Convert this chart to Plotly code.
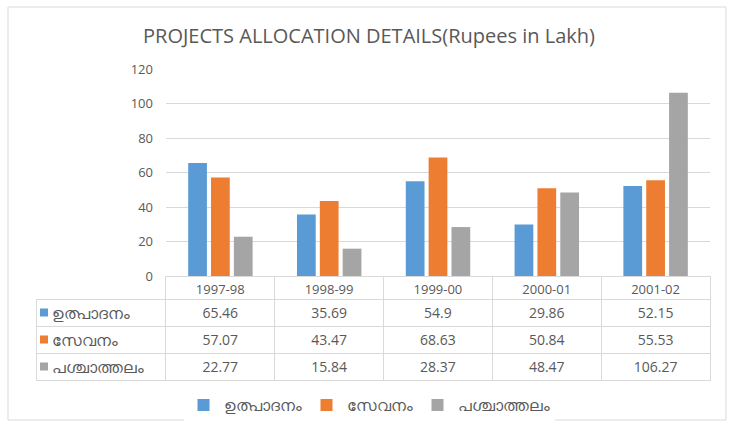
import plotly.graph_objects as go

years = ['1997-98', '1998-99', '1999-00', '2000-01', '2001-02']
series_names = ['ഉത്പാദനം', 'സേവനം', 'പശ്ചാത്തലം']
utpadanam = [65.46, 35.69, 54.9, 29.86, 52.15]
sevanam = [57.07, 43.47, 68.63, 50.84, 55.53]
paschathalam = [22.77, 15.84, 28.37, 48.47, 106.27]
colors = ['#5B9BD5', '#ED7D31', '#A5A5A5']

W, H = 738, 437
TXT = '#595959'
GRID = '#D9D9D9'
FONT = 'Open Sans, Noto Sans, sans-serif'

# table geometry in px
TBL_TOP, HEAD_H, ROW_H = 276, 23, 27

def px_x(p):
    return p / W

def px_y(p):
    return 1 - p / H

fig = go.Figure()

for name, vals, c in zip(series_names, [utpadanam, sevanam, paschathalam], colors):
    fig.add_trace(go.Bar(x=years, y=vals, name=name, marker=dict(color=c, line=dict(width=0))))

# data table under the plot, like Excel's chart data table
first_col = ['\u00a0\u00a0' + n for n in series_names]
cols = [first_col] + [[str(a), str(b), str(g)] for a, b, g in zip(utpadanam, sevanam, paschathalam)]
tbl_bottom = TBL_TOP + HEAD_H + ROW_H * len(series_names)
n_y = len(years)

fig.add_trace(go.Table(
    domain=dict(x=[px_x(36), px_x(710)], y=[px_y(tbl_bottom + 1), px_y(TBL_TOP)]),
    columnwidth=[130] + [109] * n_y,
    header=dict(values=[''] + years,
                line=dict(color=['rgba(0,0,0,0)'] + [GRID] * n_y, width=1),
                fill=dict(color=['rgba(0,0,0,0)'] + ['white'] * n_y), align='center',
                height=HEAD_H, font=dict(color=TXT, size=13, family=FONT)),
    cells=dict(values=cols, line=dict(color=GRID, width=1),
               fill=dict(color='white'), align=['left'] + ['center'] * n_y,
               height=ROW_H, font=dict(color=TXT, size=[16] + [14] * n_y, family=FONT)),
))

# coloured keys in the first table column
shapes = [dict(type='rect', xref='paper', yref='paper', x0=px_x(8), x1=px_x(726),
               y0=px_y(420), y1=px_y(7), line=dict(color=GRID, width=1))]
for i, c in enumerate(colors):
    yc = TBL_TOP + HEAD_H + ROW_H * i + ROW_H / 2
    shapes.append(dict(type='rect', xref='paper', yref='paper', x0=px_x(40), x1=px_x(48),
                       y0=px_y(yc + 4), y1=px_y(yc - 4), fillcolor=c, line=dict(width=0)))

fig.update_layout(
    width=W, height=H,
    margin=dict(l=0, r=0, t=0, b=0, autoexpand=False),
    paper_bgcolor='white', plot_bgcolor='white',
    font=dict(family=FONT, color=TXT),
    title=dict(text='PROJECTS ALLOCATION DETAILS(Rupees in Lakh)', x=0.5, xanchor='center',
               y=px_y(36), yanchor='middle', font=dict(size=20, color=TXT, family=FONT)),
    barmode='group', bargap=0.37, bargroupgap=0.18,
    legend=dict(orientation='h', x=0.5, xanchor='center', y=px_y(405), yanchor='middle',
                font=dict(size=16, color=TXT), itemwidth=30, traceorder='normal'),
    shapes=shapes,
)

fig.update_xaxes(type='category', domain=[px_x(166), px_x(710)], showticklabels=False,
                 showgrid=False, showline=False, ticks='', automargin=False)
fig.update_yaxes(domain=[px_y(276), px_y(69)], range=[0, 120], dtick=20, showgrid=True,
                 gridcolor=GRID, zeroline=False, showline=False, automargin=False,
                 tickfont=dict(size=13, color=TXT), ticks='', ticklabelstandoff=12)

fig.write_html('out.html', config={'displayModeBar': False},
               post_script="document.body.style.margin='0';")
